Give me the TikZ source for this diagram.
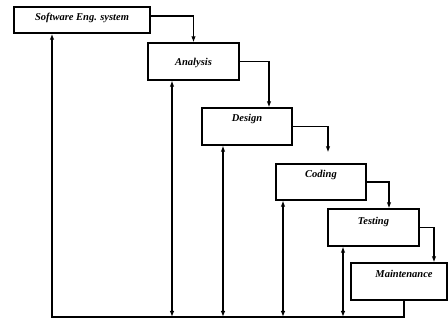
\documentclass[tikz,border=0pt]{standalone}
\usepackage{fontspec}
\setmainfont{Liberation Serif}
\usetikzlibrary{arrows.meta,calc}
\begin{document}
\begin{tikzpicture}[x=1pt,y=-1pt,
  phase/.style={draw,line width=1.4pt,inner xsep=0pt,inner ysep=0pt,
    font=\bfseries\itshape\fontsize{10.5}{12}\selectfont},
  flow/.style={line width=1.1pt,-{Latex[length=6pt,width=4.5pt]}},
  back/.style={line width=1.1pt,{Latex[length=6pt,width=4.5pt]}-{Latex[length=6pt,width=4.5pt]}},
  base/.style={line width=1.3pt}]
\useasboundingbox (0,0) rectangle (448,320);
% boxes: centre, width, height, text height/depth
\node[phase,minimum width=136pt,minimum height=26pt,text height=14pt,text depth=12pt] (sw) at (82,20) {Software Eng. system};
\node[phase,minimum width=91pt,minimum height=37pt,text height=23pt,text depth=14pt] (an) at (193.5,61.5) {Analysis};
\node[phase,minimum width=90pt,minimum height=37pt,text height=14pt,text depth=23pt] (ds) at (247,126.5) {Design};
\node[phase,minimum width=90pt,minimum height=36pt,text height=14pt,text depth=22pt] (cd) at (321,182) {Coding};
\node[phase,minimum width=91pt,minimum height=37pt,text height=16pt,text depth=21pt] (ts) at (373.5,227.5) {Testing};
\node[phase,minimum width=96pt,minimum height=37pt,text height=15pt,text depth=22pt] (mn) at (399,281.5) {\hspace*{10pt}Maintenance};
% bottom line points
\coordinate (b1) at (52,317);
\coordinate (b2) at (172,317);
\coordinate (b3) at (223,317);
\coordinate (b4) at (283,317);
\coordinate (b5) at (343,317);
\coordinate (b6) at (404,317);
% forward flow
\draw[flow] ([yshift=4pt]sw.east) -| (an.north);
\draw[flow] (an.east) -| ($(ds.north)+(22,0)$);
\draw[flow] (ds.east) -| ($(cd.north)+(7,-11)$);
\draw[flow] (cd.east) -| ($(ts.north)+(15.5,0)$);
\draw[flow] (ts.east) -| ($(mn.north)+(35,0)$);
% feedback
\draw[base,-{Latex[length=6pt,width=4.5pt]}] (mn.south -| b6) -- (b6) -- (b1) -- (b1 |- sw.south);
\draw[back] (b2) -- (b2 |- an.south);
\draw[back] (b3) -- (b3 |- ds.south);
\draw[back] (b4) -- (b4 |- cd.south);
\draw[back] (b5) -- (b5 |- ts.south);
\end{tikzpicture}
\end{document}
